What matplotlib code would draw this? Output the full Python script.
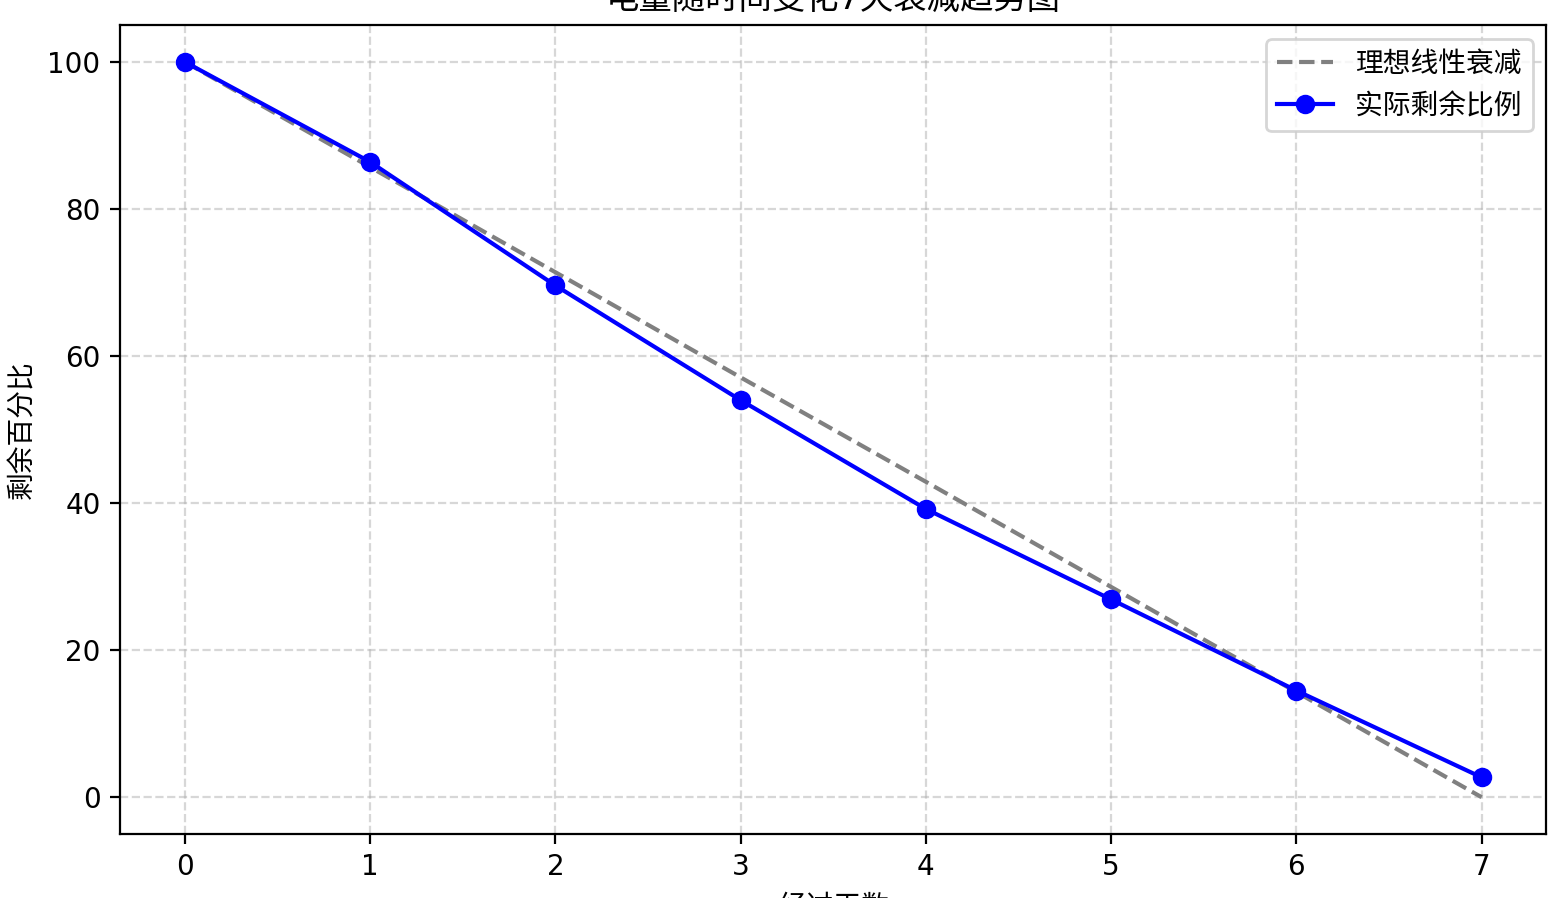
import numpy as np
import matplotlib
matplotlib.use("Agg")
import matplotlib.pyplot as plt

# DejaVu fuer Ziffern, Noto CJK fuer chinesische Zeichen
plt.rcParams['font.family'] = ['DejaVu Sans', 'Noto Sans CJK SC']

# Daten
tage = [0, 1, 2, 3, 4, 5, 6, 7]
ideal = [100, 85.7, 71.4, 57.1, 42.9, 28.6, 14.3, 0]
tatsaechlich = [100, 86.4, 69.6, 54.0, 39.2, 26.9, 14.5, 2.7]

fig = plt.figure(figsize=(7.74, 4.49), dpi=200)
ax = fig.add_axes([0.0775, 0.0713, 0.9215, 0.9007])

ax.plot(tage, ideal, '--', color='gray', label='理想线性衰减')
ax.plot(tage, tatsaechlich, 'o-', color='blue', label='实际剩余比例')

ax.set_title('电量随时间变化7天衰减趋势图')
ax.set_xlabel('经过天数')
ax.set_ylabel('剩余百分比')
ax.grid(True, linestyle='--', alpha=0.5)
ax.legend(loc='upper right')

fig.savefig('out.png', dpi=200)
